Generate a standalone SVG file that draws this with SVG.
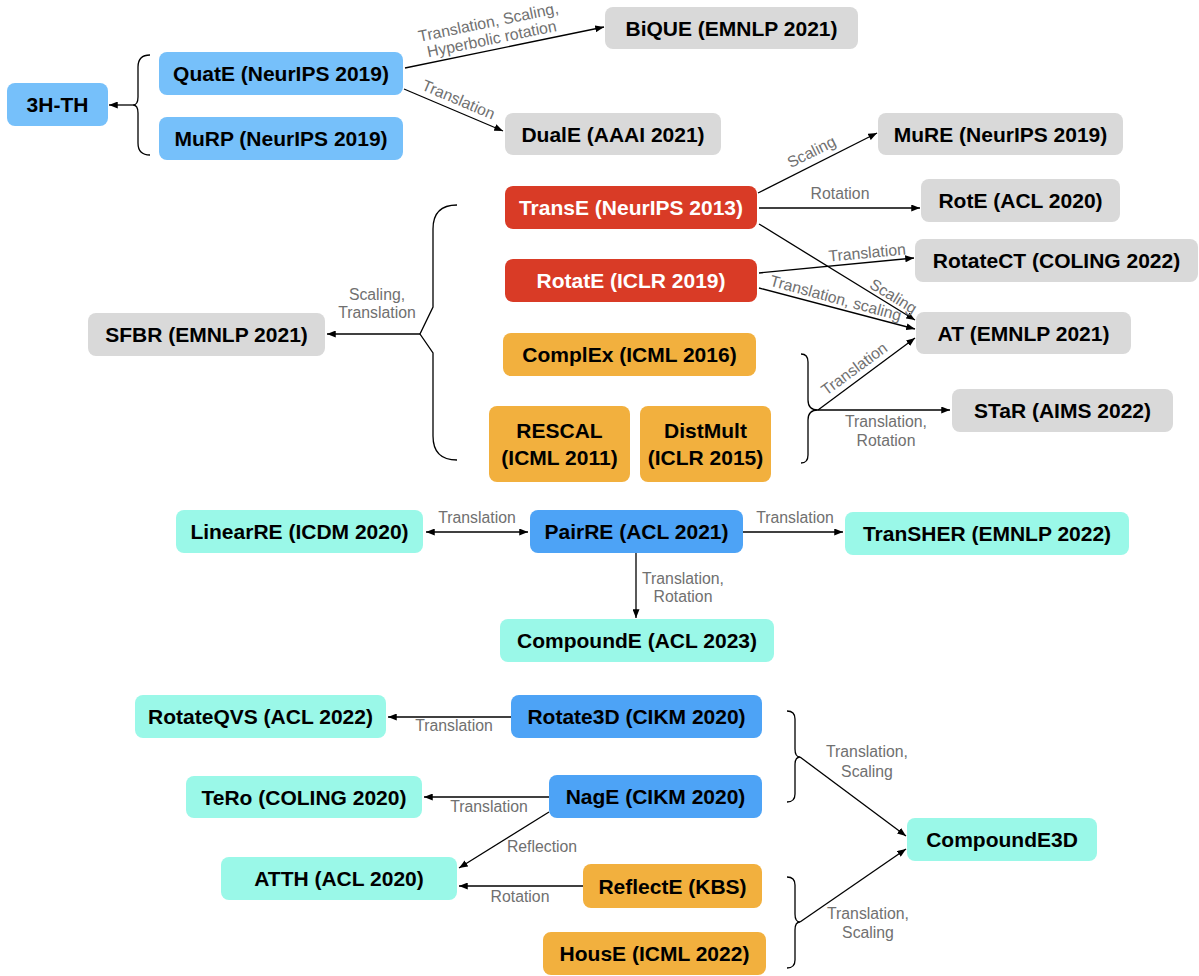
<svg xmlns="http://www.w3.org/2000/svg" width="1199" height="976" viewBox="0 0 1199 976">
<defs>
<style>
.n rect{rx:8px;ry:8px}
.lb{fill:#76C0FA}.gr{fill:#D9D9D9}.rd{fill:#D93B26}.or{fill:#F2B03E}.cy{fill:#9AF8E8}.bl{fill:#4DA3F6}
.t{font-family:"Liberation Sans",Arial,sans-serif;font-weight:bold;font-size:21px;fill:#000;text-anchor:middle}
.w{fill:#fff}
.e line,.e path.a{stroke:#000;stroke-width:1.3;fill:none}
.br{stroke:#000;stroke-width:1.3;fill:none}
.l{font-family:"Liberation Sans",Arial,sans-serif;font-size:15.8px;fill:#707070;text-anchor:middle}
</style>
<marker id="ah" viewBox="0 0 10 8" refX="10" refY="4" markerWidth="9" markerHeight="7" markerUnits="userSpaceOnUse" orient="auto-start-reverse">
<path d="M0,0 L10,4 L0,8 z" fill="#000"/>
</marker>
</defs>
<rect width="1199" height="976" fill="#fff"/>

<g id="connectors" class="e">
<path class="br" d="M150,55 Q138,55 138,67 L138,97 Q138,105 133,105 Q138,105 138,113 L138,143 Q138,155 150,155"/>
<line x1="133" y1="105" x2="109" y2="105" marker-end="url(#ah)"/>
<line x1="405" y1="68" x2="604" y2="27" marker-end="url(#ah)"/>
<line x1="404" y1="89" x2="503" y2="131" marker-end="url(#ah)"/>
<line x1="758" y1="193" x2="877" y2="133" marker-end="url(#ah)"/>
<line x1="759" y1="208" x2="920" y2="208" marker-end="url(#ah)"/>
<line x1="759" y1="224" x2="915" y2="320" marker-end="url(#ah)"/>
<line x1="759" y1="273" x2="914" y2="258" marker-end="url(#ah)"/>
<line x1="759" y1="288" x2="915" y2="329" marker-end="url(#ah)"/>
<path class="br" d="M457,205 Q433,205 433,229 L433,307 L420,334 L433,353 L433,436 Q433,460 457,460"/>
<line x1="420" y1="334" x2="327" y2="334" marker-end="url(#ah)"/>
<path class="br" d="M801,354 Q808,354 808,362 L808,400 Q808,410 818,410 Q808,410 808,420 L808,455 Q808,463 801,463"/>
<line x1="818" y1="410" x2="915" y2="338" marker-end="url(#ah)"/>
<line x1="818" y1="410" x2="950" y2="410" marker-end="url(#ah)"/>
<line x1="426" y1="532" x2="528" y2="532" marker-start="url(#ah)" marker-end="url(#ah)"/>
<line x1="743" y1="532" x2="843" y2="532" marker-end="url(#ah)"/>
<line x1="636" y1="553" x2="636" y2="618" marker-end="url(#ah)"/>
<line x1="511" y1="717" x2="388" y2="717" marker-end="url(#ah)"/>
<line x1="549" y1="797" x2="424" y2="797" marker-end="url(#ah)"/>
<line x1="549" y1="812" x2="459" y2="868" marker-end="url(#ah)"/>
<line x1="583" y1="886" x2="459" y2="886" marker-end="url(#ah)"/>
<path class="br" d="M787,711 Q795,711 795,719 L795,749 Q795,757 800,757 Q795,757 795,765 L795,794 Q795,802 787,802"/>
<path class="br" d="M787,877 Q795,877 795,885 L795,914 Q795,922 800,922 Q795,922 795,930 L795,960 Q795,968 787,968"/>
<line x1="800" y1="757" x2="906" y2="836" marker-end="url(#ah)"/>
<line x1="800" y1="922" x2="906" y2="849" marker-end="url(#ah)"/>

<g class="l">
<g transform="translate(494,50) rotate(-11.6)"><text x="0" y="-23">Translation, Scaling,</text><text x="0" y="-6">Hyperbolic rotation</text></g>
<text transform="translate(454,110) rotate(23)" x="0" y="-6">Translation</text>
<text transform="translate(817,163) rotate(-26.6)" x="0" y="-7">Scaling</text>
<text x="840" y="199">Rotation</text>
<text transform="translate(888,305) rotate(31.4)" x="0" y="-5">Scaling</text>
<text transform="translate(868,263) rotate(-5.2)" x="0" y="-5">Translation</text>
<text transform="translate(833,308) rotate(15.2)" x="0" y="-5">Translation, scaling</text>
<text x="377" y="300">Scaling,</text>
<text x="377" y="318">Translation</text>
<text transform="translate(861,378) rotate(-36.3)" x="0" y="-6">Translation</text>
<text x="886" y="427">Translation,</text>
<text x="886" y="446">Rotation</text>
<text x="477" y="523">Translation</text>
<text x="795" y="523">Translation</text>
<text x="683" y="584">Translation,</text>
<text x="683" y="602">Rotation</text>
<text x="454" y="731">Translation</text>
<text x="489" y="812">Translation</text>
<text x="542" y="852">Reflection</text>
<text x="520" y="902">Rotation</text>
<text x="867" y="757">Translation,</text>
<text x="867" y="777">Scaling</text>
<text x="868" y="919">Translation,</text>
<text x="868" y="938">Scaling</text>
</g>
</g>

<g id="n-3hth" class="n"><rect class="lb" x="7" y="83" width="101" height="43"/><text class="t" x="57.5" y="112">3H-TH</text></g>
<g id="n-quate" class="n"><rect class="lb" x="159" y="52" width="244" height="43"/><text class="t" x="281" y="81">QuatE (NeurIPS 2019)</text></g>
<g id="n-murp" class="n"><rect class="lb" x="159" y="117" width="244" height="43"/><text class="t" x="281" y="146">MuRP (NeurIPS 2019)</text></g>
<g id="n-bique" class="n"><rect class="gr" x="605" y="7" width="253" height="42"/><text class="t" x="731.5" y="35.5">BiQUE (EMNLP 2021)</text></g>
<g id="n-duale" class="n"><rect class="gr" x="505" y="113" width="216" height="42"/><text class="t" x="613" y="141.5">DualE (AAAI 2021)</text></g>
<g id="n-mure" class="n"><rect class="gr" x="878" y="113" width="245" height="42"/><text class="t" x="1000.5" y="141.5">MuRE (NeurIPS 2019)</text></g>
<g id="n-transe" class="n"><rect class="rd" x="505" y="186" width="252" height="43"/><text class="t w" x="631" y="215">TransE (NeurIPS 2013)</text></g>
<g id="n-rote" class="n"><rect class="gr" x="921" y="179" width="199" height="43"/><text class="t" x="1020.5" y="208">RotE (ACL 2020)</text></g>
<g id="n-rotatect" class="n"><rect class="gr" x="915" y="239" width="283" height="43"/><text class="t" x="1056.5" y="268">RotateCT (COLING 2022)</text></g>
<g id="n-rotate" class="n"><rect class="rd" x="505" y="259" width="252" height="43"/><text class="t w" x="631" y="288">RotatE (ICLR 2019)</text></g>
<g id="n-at" class="n"><rect class="gr" x="916" y="312" width="215" height="42"/><text class="t" x="1023.5" y="340.5">AT (EMNLP 2021)</text></g>
<g id="n-sfbr" class="n"><rect class="gr" x="88" y="313" width="237" height="43"/><text class="t" x="206.5" y="342">SFBR (EMNLP 2021)</text></g>
<g id="n-complex" class="n"><rect class="or" x="503" y="333" width="253" height="43"/><text class="t" x="629.5" y="362">ComplEx (ICML 2016)</text></g>
<g id="n-rescal" class="n"><rect class="or" x="489" y="406" width="141" height="76"/><text class="t" x="559.5" y="438">RESCAL</text><text class="t" x="559.5" y="465">(ICML 2011)</text></g>
<g id="n-distmult" class="n"><rect class="or" x="640" y="406" width="131" height="76"/><text class="t" x="705.5" y="438">DistMult</text><text class="t" x="705.5" y="465">(ICLR 2015)</text></g>
<g id="n-star" class="n"><rect class="gr" x="952" y="389" width="221" height="43"/><text class="t" x="1062.5" y="418">STaR (AIMS 2022)</text></g>
<g id="n-linearre" class="n"><rect class="cy" x="176" y="510" width="247" height="43"/><text class="t" x="299.5" y="539">LinearRE (ICDM 2020)</text></g>
<g id="n-pairre" class="n"><rect class="bl" x="530" y="510" width="213" height="43"/><text class="t" x="636.5" y="539">PairRE (ACL 2021)</text></g>
<g id="n-transher" class="n"><rect class="cy" x="845" y="512" width="284" height="43"/><text class="t" x="987" y="541">TranSHER (EMNLP 2022)</text></g>
<g id="n-compounde" class="n"><rect class="cy" x="500" y="619" width="274" height="43"/><text class="t" x="637" y="648">CompoundE (ACL 2023)</text></g>
<g id="n-rotateqvs" class="n"><rect class="cy" x="135" y="695" width="251" height="43"/><text class="t" x="260.5" y="724">RotateQVS (ACL 2022)</text></g>
<g id="n-rotate3d" class="n"><rect class="bl" x="511" y="695" width="251" height="43"/><text class="t" x="636.5" y="724">Rotate3D (CIKM 2020)</text></g>
<g id="n-tero" class="n"><rect class="cy" x="186" y="776" width="236" height="42"/><text class="t" x="304" y="804.5">TeRo (COLING 2020)</text></g>
<g id="n-nage" class="n"><rect class="bl" x="549" y="775" width="213" height="43"/><text class="t" x="655.5" y="804">NagE (CIKM 2020)</text></g>
<g id="n-atth" class="n"><rect class="cy" x="221" y="857" width="236" height="43"/><text class="t" x="339" y="886">ATTH (ACL 2020)</text></g>
<g id="n-reflecte" class="n"><rect class="or" x="583" y="864" width="179" height="44"/><text class="t" x="672.5" y="893.5">ReflectE (KBS)</text></g>
<g id="n-house" class="n"><rect class="or" x="543" y="932" width="223" height="43"/><text class="t" x="654.5" y="961">HousE (ICML 2022)</text></g>
<g id="n-compounde3d" class="n"><rect class="cy" x="907" y="818" width="190" height="43"/><text class="t" x="1002" y="847">CompoundE3D</text></g>
</svg>
